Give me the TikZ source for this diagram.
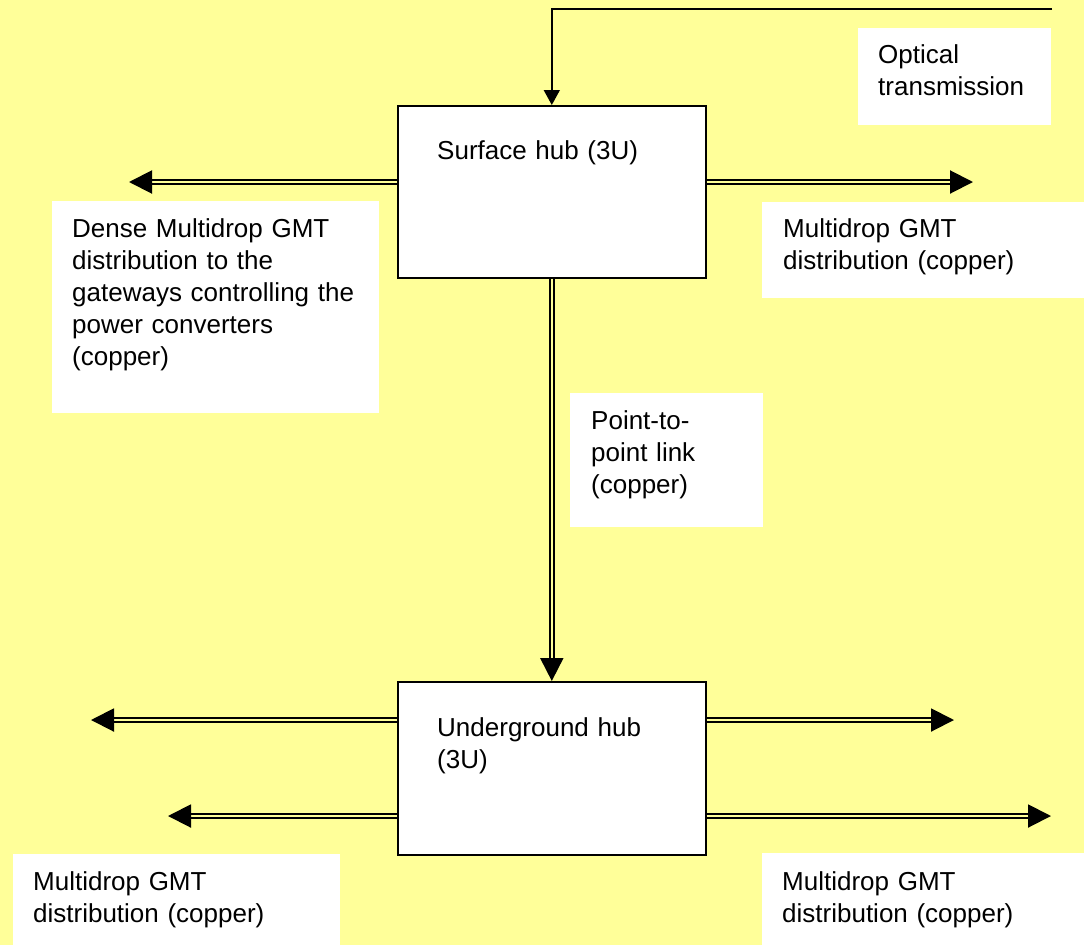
\documentclass[tikz,border=0pt]{standalone}
\usepackage{fontspec}
\setmainfont{Liberation Sans}
\usetikzlibrary{arrows.meta}
\definecolor{bg}{RGB}{255,255,153}
\begin{document}
\begin{tikzpicture}[x=1pt,y=-1pt,
  hub/.style={draw, line width=1.6pt, fill=white, anchor=north west, inner sep=0pt},
  lbox/.style={fill=white, anchor=north west, inner sep=0pt},
  txt/.style={anchor=base west, inner sep=0pt, align=left, text width=330pt, font=\fontsize{26}{32}\selectfont},
  dbl/.style={double=bg, line width=2pt, double distance=2.4pt, -{Triangle[length=23pt,width=23pt]}},
  sgl/.style={line width=1.6pt, -{Triangle[length=15pt,width=16pt]}}]
\fill[bg] (0,0) rectangle (1084,945);
\useasboundingbox (0,0) rectangle (1084,945);

% white label boxes
\node[lbox, minimum width=193pt, minimum height=97pt] (optbox) at (858,28) {};
\node[lbox, minimum width=322pt, minimum height=96pt] (mdbox1) at (762,202) {};
\node[lbox, minimum width=327pt, minimum height=212pt] (densebox) at (52,201) {};
\node[lbox, minimum width=193pt, minimum height=134pt] (p2pbox) at (570,393) {};
\node[lbox, minimum width=327pt, minimum height=91pt] (mdbox2) at (13,854) {};
\node[lbox, minimum width=322pt, minimum height=92pt] (mdbox3) at (762,853) {};

% hubs
\node[hub, minimum width=308pt, minimum height=172pt] (surf) at (397,105) {};
\node[hub, minimum width=308pt, minimum height=173pt] (under) at (397,681) {};

% texts
\node[txt] (tsurf) at (437,159) {Surface hub (3U)};
\node[txt] (tunder) at (437,736) {Underground hub\\(3U)};
\node[txt] (topt) at (878,63) {Optical\\transmission};
\node[txt] (tmd1) at (783,237) {Multidrop GMT\\distribution (copper)};
\node[txt] (tdense) at (72,237) {Dense Multidrop GMT\\distribution to the\\gateways controlling the\\power converters\\(copper)};
\node[txt] (tp2p) at (591,429) {Point-to-\\point link\\(copper)};
\node[txt] (tmd2) at (33,890) {Multidrop GMT\\distribution (copper)};
\node[txt] (tmd3) at (782,890) {Multidrop GMT\\distribution (copper)};

% connectors
\coordinate (optsrc) at (1052,9);
\draw[sgl] (optsrc) -| (surf.north);
\coordinate (sl) at (129,182);
\coordinate (sr) at (973,182);
\draw[dbl] (surf.west |- sl) -- (sl);
\draw[dbl] (surf.east |- sr) -- (sr);
\draw[dbl] (surf.south) -- (under.north);
\coordinate (ul1) at (91,720);
\coordinate (ul2) at (168,816);
\coordinate (ur1) at (954,720);
\coordinate (ur2) at (1051,816);
\draw[dbl] (under.west |- ul1) -- (ul1);
\draw[dbl] (under.west |- ul2) -- (ul2);
\draw[dbl] (under.east |- ur1) -- (ur1);
\draw[dbl] (under.east |- ur2) -- (ur2);
\end{tikzpicture}
\end{document}
